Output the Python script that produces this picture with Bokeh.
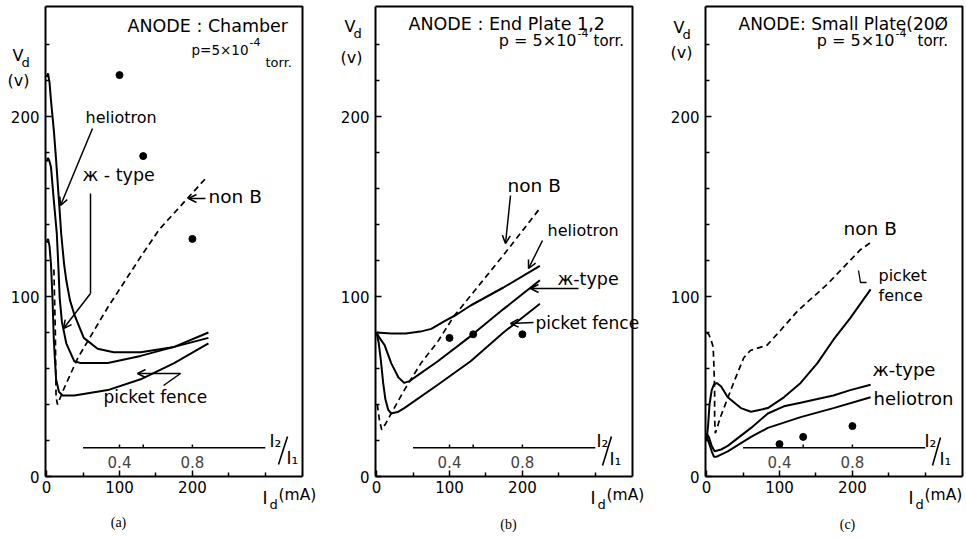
from bokeh.plotting import figure
from bokeh.layouts import row
from bokeh.models import Range1d, FixedTicker, Label, Arrow, OpenHead
from bokeh.embed import file_html
from bokeh.resources import INLINE

# ---------------- data ----------------
x_tick_vals = [0, 100, 200]
x_minor_vals = [50, 150, 250, 300]
y_tick_vals = [0, 100, 200]
y_minor_vals = [20, 40, 60, 80, 120, 140, 160, 180, 220, 240]
ratio_labels = [0.4, 0.8]          # I2/I1 axis labels
ratio_marks = [0.4, 0.53, 0.8]     # I2/I1 tick marks
ratio_span = [0.2, 1.2]            # extent of the I2/I1 axis line
ratio_to_id = 250.0                # I2/I1 = 1  <->  Id = 250 mA on the drawing

# (a) ANODE: Chamber
a_helio_x = [0, 2, 4, 6, 10, 13, 17, 20, 24, 27, 32, 38, 51, 70, 92, 129, 175, 222]
a_helio_y = [222, 224, 219, 209, 192, 176, 153, 135, 118, 109, 98, 90, 77, 71, 69, 69, 72, 80]
a_jtype_x = [0, 2, 4, 6, 10, 14, 16, 18, 21, 27, 38, 47, 84, 129, 175, 222]
a_jtype_y = [175, 177, 175, 172, 153, 135, 118, 99, 86, 74, 64, 63, 63, 67, 72, 77]
a_picket_x = [0, 2, 4, 6, 8, 10, 13, 17, 22, 38, 84, 129, 175, 222]
a_picket_y = [130, 132, 128, 118, 100, 75, 54, 47, 45, 45, 48, 54, 63, 74]
a_nonb_x = [10, 12, 13, 15, 24, 43, 84, 129, 154, 219]
a_nonb_y = [115, 80, 44, 40, 49, 66, 94, 122, 137, 166]
a_dot_ratio = [0.4, 0.53, 0.8]
a_dot_v = [223, 178, 132]

# (b) ANODE: End Plate 1,2
b_helio_x = [0, 20, 40, 60, 75, 92, 110, 129, 174, 224]
b_helio_y = [80, 79.5, 79.5, 80.5, 82, 86, 90, 95, 105, 117]
b_jtype_x = [0, 4, 11, 20, 30, 38, 45, 84, 129, 174, 224]
b_jtype_y = [80, 77, 73, 63, 55, 52, 53, 64, 78, 93, 109]
b_picket_x = [0, 3, 6, 9, 12, 16, 20, 30, 38, 84, 129, 174, 224]
b_picket_y = [80, 74, 64, 52, 43, 37, 35, 36, 38, 51, 64, 80, 96]
b_nonb_x = [1, 4, 7, 12, 20, 38, 61, 84, 106, 174, 224]
b_nonb_y = [40, 31, 26, 29, 35, 48, 63, 75, 89, 123, 149]
b_dot_ratio = [0.4, 0.53, 0.8]
b_dot_v = [77, 79, 79]

# (c) ANODE: Small Plate
c_nonb_x = [0, 3, 6, 9, 10, 11, 11, 12, 19, 37, 51, 60, 83, 101, 125, 166, 211, 225]
c_nonb_y = [80, 79, 76, 72, 62, 48, 32, 24, 33, 52, 66, 70, 73, 81, 92, 107, 126, 130]
c_picket_x = [0, 2, 4, 7, 10, 14, 20, 29, 47, 61, 84, 106, 129, 152, 174, 197, 225]
c_picket_y = [20, 28, 40, 48, 51, 52, 50, 44, 38, 36, 38, 44, 52, 63, 76, 88, 104]
c_jtype_x = [0, 3, 7, 11, 20, 29, 61, 84, 106, 129, 152, 174, 197, 225]
c_jtype_y = [24, 22, 17, 14, 15, 17, 27, 35, 39, 41, 43, 45, 48, 51]
c_helio_x = [0, 3, 7, 10, 14, 29, 61, 84, 129, 174, 225]
c_helio_y = [22, 19, 14, 11, 11, 14, 22, 27, 33, 38, 44]
c_dot_ratio = [0.4, 0.53, 0.8]
c_dot_v = [18, 22, 28]

# ---------------- layout geometry (page pixels) ----------------
FONT = "DejaVu Sans"
SERIF = "Liberation Serif"
H = 536
X0, X1 = -1.5, 351.0               # data x at box left / right
FB = 476                           # page y of box bottom (Vd = 0)
PY = 1.8                           # px per volt
Y_TOP = (FB - 6) / PY              # box top
FW = 257
KX = FW / (X1 - X0)                # px per mA
FL = {"a": 45, "b": 375, "c": 705}
FIG = {"a": (0, 320), "b": (320, 650), "c": (650, 966)}
RATIO_Y = 16.0


def to_data(key, px, py):
    return X0 + (px - FL[key]) / KX, (FB - py) / PY


def lab(p, key, px, py, text, size=16, align="left", font=FONT, baseline="middle"):
    x, y = to_data(key, px, py)
    p.add_layout(Label(x=x, y=y, text=text, text_font=font,
                       text_font_size=f"{size}px", text_align=align,
                       text_baseline=baseline, text_color="black"))


def arr(p, key, a, b, w=1.5):
    x0, y0 = to_data(key, *a)
    x1, y1 = to_data(key, *b)
    p.add_layout(Arrow(end=OpenHead(size=8, line_width=w, line_color="black"),
                       x_start=x0, y_start=y0, x_end=x1, y_end=y1,
                       line_width=w, line_color="black"))


def poly(p, key, pts, w=1.5):
    xs, ys = zip(*[to_data(key, *q) for q in pts])
    p.line(list(xs), list(ys), line_width=w, line_color="black")


def make(key, curves, dashed, dot_ratio, dot_v):
    left, right = FIG[key]
    xr = Range1d(X0 - (FL[key] - left) / KX, X0 + (right - FL[key]) / KX)
    yr = Range1d(-(H - FB) / PY, FB / PY)
    p = figure(width=right - left, height=H, output_backend="svg", toolbar_location=None,
               x_range=xr, y_range=yr,
               min_border_left=0, min_border_right=0, min_border_top=0, min_border_bottom=0,
               background_fill_color="white", border_fill_color="white")
    p.title.visible = False
    p.outline_line_color = None
    p.grid.visible = False
    p.xaxis.fixed_location = 0
    p.xaxis.bounds = (X0, X1)
    p.yaxis.fixed_location = X0
    p.yaxis.bounds = (0, Y_TOP)
    for ax, ticks, minors in ((p.xaxis, x_tick_vals, x_minor_vals),
                              (p.yaxis, y_tick_vals, y_minor_vals)):
        ax.ticker = FixedTicker(ticks=ticks, minor_ticks=minors)
        ax.axis_line_width = 2
        ax.major_tick_in = 6
        ax.major_tick_out = 0
        ax.minor_tick_in = 4
        ax.minor_tick_out = 0
        ax.major_tick_line_width = 1.5
        ax.minor_tick_line_width = 1.5
        ax.major_label_text_font = FONT
        ax.major_label_text_font_size = "15px"
        ax.major_label_text_color = "black"
    p.xaxis.major_label_standoff = 4
    p.yaxis.major_label_standoff = 6

    # panel box (top and right sides; bottom/left are the axes)
    p.line([X0, X1, X1], [Y_TOP, Y_TOP, 0], line_color="black", line_width=2)

    for xs, ys in curves:
        p.line(xs, ys, line_color="black", line_width=2)
    p.line(dashed[0], dashed[1], line_color="black", line_width=1.7, line_dash="6 4")
    p.scatter([r * ratio_to_id for r in dot_ratio], dot_v, size=7,
              color="black", marker="circle")

    # secondary I2/I1 scale
    p.line([r * ratio_to_id for r in ratio_span], [RATIO_Y, RATIO_Y],
           line_color="black", line_width=1.6)
    p.segment(x0=[r * ratio_to_id for r in ratio_marks], y0=[RATIO_Y] * len(ratio_marks),
              x1=[r * ratio_to_id for r in ratio_marks], y1=[RATIO_Y + 1.8] * len(ratio_marks),
              line_color="black", line_width=1.5)
    for r in ratio_labels:
        p.add_layout(Label(x=r * ratio_to_id, y=RATIO_Y - 8, text=f"{r:.1f}",
                           text_font=FONT, text_font_size="15px",
                           text_align="center", text_baseline="middle"))
    return p


pa = make("a", [(a_helio_x, a_helio_y), (a_jtype_x, a_jtype_y), (a_picket_x, a_picket_y)],
          (a_nonb_x, a_nonb_y), a_dot_ratio, a_dot_v)
pb = make("b", [(b_helio_x, b_helio_y), (b_jtype_x, b_jtype_y), (b_picket_x, b_picket_y)],
          (b_nonb_x, b_nonb_y), b_dot_ratio, b_dot_v)
pc = make("c", [(c_helio_x, c_helio_y), (c_jtype_x, c_jtype_y), (c_picket_x, c_picket_y)],
          (c_nonb_x, c_nonb_y), c_dot_ratio, c_dot_v)

# ---------- common texts (axis names, ratio label, panel letter) ----------
common = {
    "a": dict(v=(12, 55), d=(21, 62), vv=(7, 80), i2=(269, 440), sl=((287, 436), (278, 464)),
              i1=(286, 457), id_=(262, 497), letter=(118, 522)),
    "b": dict(v=(344, 26), d=(353, 33), vv=(340, 57), i2=(596, 440), sl=((611, 436), (602, 465)),
              i1=(609, 458), id_=(590, 497), letter=(508, 524)),
    "c": dict(v=(673, 27), d=(682, 34), vv=(670, 52), i2=(924, 440), sl=((940, 437), (932, 465)),
              i1=(939, 458), id_=(908, 497), letter=(847, 524)),
}
for key, p, letter in (("a", pa, "(a)"), ("b", pb, "(b)"), ("c", pc, "(c)")):
    c = common[key]
    lab(p, key, *c["v"], "V", 16)
    lab(p, key, *c["d"], "d", 13)
    lab(p, key, *c["vv"], "(v)", 16)
    lab(p, key, *c["i2"], "I\u2082", 17)
    poly(p, key, list(c["sl"]), 1.6)
    lab(p, key, *c["i1"], "I\u2081", 17)
    ix, iy = c["id_"]
    lab(p, key, ix, iy, "I", 17)
    lab(p, key, ix + 7, iy + 7, "d", 13)
    lab(p, key, ix + 16, iy - 3, "(mA)", 15.5)
    lab(p, key, *c["letter"], letter, 14, align="center", font=SERIF)

# ---------- panel (a) annotations ----------
lab(pa, "a", 127, 25, "ANODE : Chamber", 17.5)
lab(pa, "a", 248, 49, "p=5\u00d710", 13.5, align="right")
lab(pa, "a", 249, 41, "-4", 11)
lab(pa, "a", 265, 62, "torr.", 13)
lab(pa, "a", 85, 117, "heliotron", 16)
arr(pa, "a", (92, 128), (60, 205))
lab(pa, "a", 82, 174, "\u0436 - type", 17.5)
poly(pa, "a", [(90, 193), (90, 293)])
arr(pa, "a", (90, 293), (63, 328))
lab(pa, "a", 208, 196, "non B", 18.5)
arr(pa, "a", (205, 198), (188, 198))
lab(pa, "a", 103, 396, "picket fence", 17)
poly(pa, "a", [(163, 385), (180, 373)])
arr(pa, "a", (180, 373), (137, 373))

# ---------- panel (b) annotations ----------
lab(pb, "b", 408, 23, "ANODE : End Plate 1,2", 17.5)
lab(pb, "b", 576, 40, "p = 5\u00d710", 16, align="right")
lab(pb, "b", 577, 32, "-4", 11)
lab(pb, "b", 593, 40, "torr.", 15)
lab(pb, "b", 507, 185, "non B", 18.5)
arr(pb, "b", (510, 195), (505, 243))
lab(pb, "b", 547, 230, "heliotron", 16)
arr(pb, "b", (542, 240), (528, 268))
lab(pb, "b", 557, 278, "\u0436-type", 17.5)
arr(pb, "b", (578, 288), (530, 288))
lab(pb, "b", 535, 322, "picket fence", 17)
arr(pb, "b", (533, 322), (510, 323))

# ---------- panel (c) annotations ----------
lab(pc, "c", 738, 23, "ANODE: Small Plate(20\u00d8", 17)
lab(pc, "c", 894, 40, "p = 5\u00d710", 16, align="right")
lab(pc, "c", 895, 32, "-4", 11)
lab(pc, "c", 917, 40, "torr.", 15)
lab(pc, "c", 843, 228, "non B", 18.5)
lab(pc, "c", 878, 275, "picket", 16)
lab(pc, "c", 878, 295, "fence", 16)
poly(pc, "c", [(858, 270), (860, 282), (866, 282)], 1.3)
lab(pc, "c", 872, 369, "\u0436-type", 18)
lab(pc, "c", 873, 398, "heliotron", 18)

layout = row(pa, pb, pc)
open("out.html", "w").write(file_html(layout, INLINE))
